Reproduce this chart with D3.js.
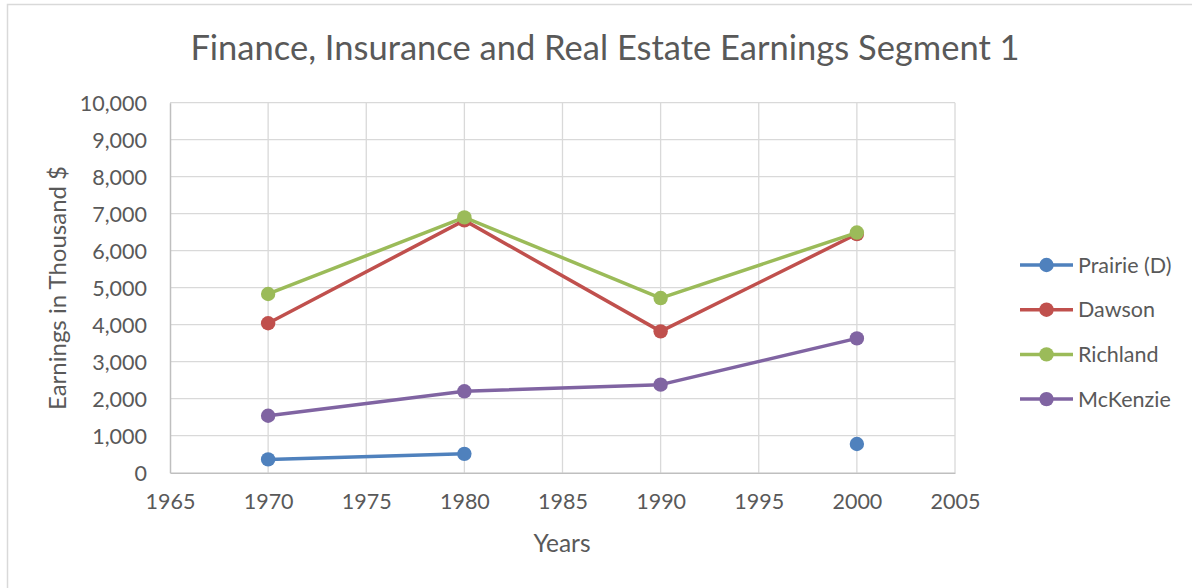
<!DOCTYPE html>
<html>
<head>
<meta charset="utf-8">
<script src="https://cdn.jsdelivr.net/npm/d3@7"></script>
<style>
  body { margin: 0; background: #fff; }
  text { font-family: Lato, "Open Sans", sans-serif; fill: #595959; }
</style>
</head>
<body>
<svg></svg>
<script>
const WIDTH = 1192;
const HEIGHT = 588;

// data
const years = [1970, 1980, 1990, 2000];
const seriesNames = ["Prairie (D)", "Dawson", "Richland", "McKenzie"];
const seriesColors = ["#4f81bd", "#c0504d", "#9bbb59", "#8064a2"];
const prairie = [360, 510, null, 775];
const dawson = [4040, 6820, 3820, 6450];
const richland = [4830, 6900, 4720, 6490];
const mckenzie = [1540, 2200, 2380, 3630];
const xTicks = [1965, 1970, 1975, 1980, 1985, 1990, 1995, 2000, 2005];
const yTicks = [0, 1000, 2000, 3000, 4000, 5000, 6000, 7000, 8000, 9000, 10000];

const allValues = [prairie, dawson, richland, mckenzie];

const plotLeft = 170;
const plotRight = 955;
const plotTop = 102.7;
const plotBottom = 472.7;

var svg = d3.select("svg").attr("width", WIDTH).attr("height", HEIGHT);

// chart frame
svg.append("rect")
  .attr("x", 7.5).attr("y", 4.5)
  .attr("width", WIDTH).attr("height", HEIGHT)
  .attr("fill", "#fff").attr("stroke", "#d9d9d9").attr("stroke-width", 1.5);

var x = d3.scaleLinear().domain([1965, 2005]).range([plotLeft, plotRight]);
var y = d3.scaleLinear().domain([0, 10000]).range([plotBottom, plotTop]);

// gridlines
svg.append("g").selectAll("line").data(yTicks.slice(1)).enter()
  .append("line")
  .attr("x1", plotLeft).attr("x2", plotRight)
  .attr("y1", d => y(d)).attr("y2", d => y(d))
  .attr("stroke", "#d9d9d9").attr("stroke-width", 1.3);

svg.append("g").selectAll("line").data(xTicks.slice(1)).enter()
  .append("line")
  .attr("x1", d => x(d)).attr("x2", d => x(d))
  .attr("y1", plotTop).attr("y2", plotBottom)
  .attr("stroke", "#d9d9d9").attr("stroke-width", 1.3);

// axes
var yAxis = d3.axisLeft(y).tickValues(yTicks).tickSize(0).tickPadding(23)
  .tickFormat(d3.format(","));
var gy = svg.append("g").attr("transform", `translate(${plotLeft},0)`).call(yAxis);
gy.select(".domain").attr("stroke", "#bfbfbf").attr("stroke-width", 1.5);
gy.selectAll("text").attr("font-size", 21.5).attr("fill", "#595959")
  .attr("font-family", "Lato, sans-serif").attr("dy", "0.35em");

var xAxis = d3.axisBottom(x).tickValues(xTicks).tickSize(0).tickPadding(21)
  .tickFormat(d3.format("d"));
var gx = svg.append("g").attr("transform", `translate(0,${plotBottom})`).call(xAxis);
gx.select(".domain").attr("stroke", "#bfbfbf").attr("stroke-width", 1.5);
gx.selectAll("text").attr("font-size", 21.5).attr("fill", "#595959")
  .attr("font-family", "Lato, sans-serif");

// titles
svg.append("text")
  .attr("x", 605).attr("y", 60)
  .attr("text-anchor", "middle")
  .attr("font-size", 34.5)
  .text("Finance, Insurance and Real Estate Earnings Segment 1");

svg.append("text")
  .attr("x", 562).attr("y", 552)
  .attr("text-anchor", "middle")
  .attr("font-size", 24.5)
  .text("Years");

svg.append("text")
  .attr("transform", "translate(66,288) rotate(-90)")
  .attr("text-anchor", "middle")
  .attr("font-size", 24)
  .text("Earnings in Thousand $");

// series
var line = d3.line()
  .defined(d => d.v != null)
  .x(d => x(d.year))
  .y(d => y(d.v));

allValues.forEach(function (vals, i) {
  var pts = years.map((yr, j) => ({ year: yr, v: vals[j] }));
  var g = svg.append("g");
  g.append("path")
    .datum(pts)
    .attr("d", line)
    .attr("fill", "none")
    .attr("stroke", seriesColors[i])
    .attr("stroke-width", 3.5)
    .attr("stroke-linejoin", "round")
    .attr("stroke-linecap", "round");
  g.selectAll("circle").data(pts.filter(d => d.v != null)).enter()
    .append("circle")
    .attr("cx", d => x(d.year))
    .attr("cy", d => y(d.v))
    .attr("r", 7.2)
    .attr("fill", seriesColors[i]);
});

// legend
const legendY0 = 265;
const legendStep = 44.7;
var legend = svg.append("g").selectAll("g").data(seriesNames).enter()
  .append("g")
  .attr("transform", (d, i) => `translate(1020,${legendY0 + legendStep * i})`);

legend.append("line")
  .attr("x1", 0).attr("x2", 53)
  .attr("stroke", (d, i) => seriesColors[i])
  .attr("stroke-width", 3.5);
legend.append("circle")
  .attr("cx", 26.5).attr("r", 7.2)
  .attr("fill", (d, i) => seriesColors[i]);
legend.append("text")
  .attr("x", 58).attr("dy", "0.35em")
  .attr("font-size", 21.5)
  .text(d => d);
</script>
</body>
</html>
